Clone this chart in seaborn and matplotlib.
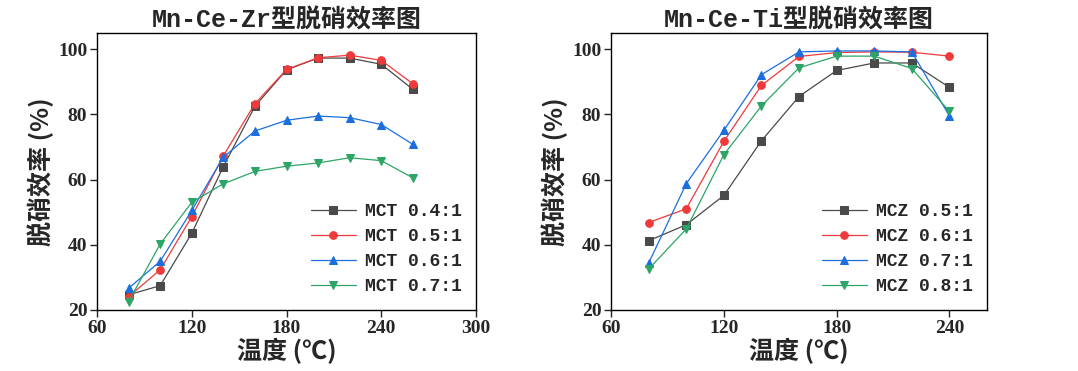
import matplotlib
matplotlib.use("Agg")
import matplotlib.pyplot as plt
import seaborn as sns

sns.set_theme(style="ticks")
plt.rcParams['font.family'] = ['Liberation Mono', 'Noto Sans CJK SC']
plt.rcParams['font.weight'] = 'bold'
plt.rcParams['axes.linewidth'] = 1.0

# Mn-Ce-Zr panel
temp_zr = [80, 100, 120, 140, 160, 180, 200, 220, 240, 260]
mct_04 = [24.6, 27.4, 43.5, 64.0, 82.5, 93.7, 97.3, 97.3, 95.4, 87.7]
mct_05 = [24.0, 32.3, 48.6, 67.3, 83.3, 93.8, 97.4, 98.2, 96.6, 89.4]
mct_06 = [26.6, 34.9, 50.5, 66.9, 74.9, 78.2, 79.5, 79.0, 76.9, 70.8]
mct_07 = [22.5, 40.2, 53.0, 58.7, 62.5, 64.1, 65.1, 66.7, 65.8, 60.5]
labels_zr = ["MCT 0.4:1", "MCT 0.5:1", "MCT 0.6:1", "MCT 0.7:1"]

# Mn-Ce-Ti panel
temp_ti = [80, 100, 120, 140, 160, 180, 200, 220, 240]
mcz_05 = [41.2, 46.1, 55.1, 71.9, 85.5, 93.5, 95.8, 95.8, 88.3]
mcz_06 = [46.8, 51.0, 71.7, 88.9, 97.8, 99.0, 99.2, 99.1, 97.9]
mcz_07 = [34.3, 58.7, 75.1, 92.2, 99.2, 99.5, 99.5, 99.2, 79.5]
mcz_08 = [32.5, 44.8, 67.6, 82.6, 94.3, 97.9, 97.9, 94.1, 80.9]
labels_ti = ["MCZ 0.5:1", "MCZ 0.6:1", "MCZ 0.7:1", "MCZ 0.8:1"]

colors = ["#4a4a4a", "#ee3a3a", "#1a6fdf", "#2ca566"]
markers = ["s", "o", "^", "v"]

cjk = ['Noto Sans CJK SC', 'DejaVu Sans']
title_font = ['Liberation Mono', 'Noto Sans CJK SC']

fig = plt.figure(figsize=(10.78, 3.71), dpi=100)
ax1 = fig.add_axes([0.09, 0.165, 0.3516, 0.746])
ax2 = fig.add_axes([0.5668, 0.165, 0.3488, 0.746])


def draw(ax, x, series, labels, title, xlim, xticks):
    for ys, lab, c, m in zip(series, labels, colors, markers):
        sns.lineplot(x=x, y=ys, ax=ax, color=c, marker=m, markersize=5.5,
                     markeredgecolor=c, linewidth=0.9, label=lab)
    ax.set_xlim(*xlim)
    ax.set_ylim(20, 105)
    ax.set_xticks(xticks)
    ax.set_yticks([20, 40, 60, 80, 100])
    for t in ax.get_xticklabels() + ax.get_yticklabels():
        t.set_family('Liberation Serif')
        t.set_fontweight('bold')
        t.set_fontsize(14)
    ax.tick_params(direction='out', length=5, width=1, pad=2)
    ax.set_title(title, fontsize=18, family=title_font, fontweight='bold', pad=3)
    ax.set_xlabel("温度 (℃)", fontsize=18, family=cjk, fontweight='bold', labelpad=1)
    ax.set_ylabel("脱硝效率 (%)", fontsize=18, family=cjk, fontweight='bold', labelpad=3)
    for sp in ax.spines.values():
        sp.set_color('black')
    ax.legend(loc='lower right', frameon=False,
              prop={'family': 'Liberation Mono', 'weight': 'bold', 'size': 13},
              handlelength=2.5, handletextpad=0.5, labelspacing=0.45,
              borderaxespad=0.5, borderpad=0.3)


draw(ax1, temp_zr, [mct_04, mct_05, mct_06, mct_07], labels_zr,
     "Mn-Ce-Zr型脱硝效率图", (60, 300), [60, 120, 180, 240, 300])
draw(ax2, temp_ti, [mcz_05, mcz_06, mcz_07, mcz_08], labels_ti,
     "Mn-Ce-Ti型脱硝效率图", (60, 260), [60, 120, 180, 240])

fig.savefig("out.png", dpi=100)
